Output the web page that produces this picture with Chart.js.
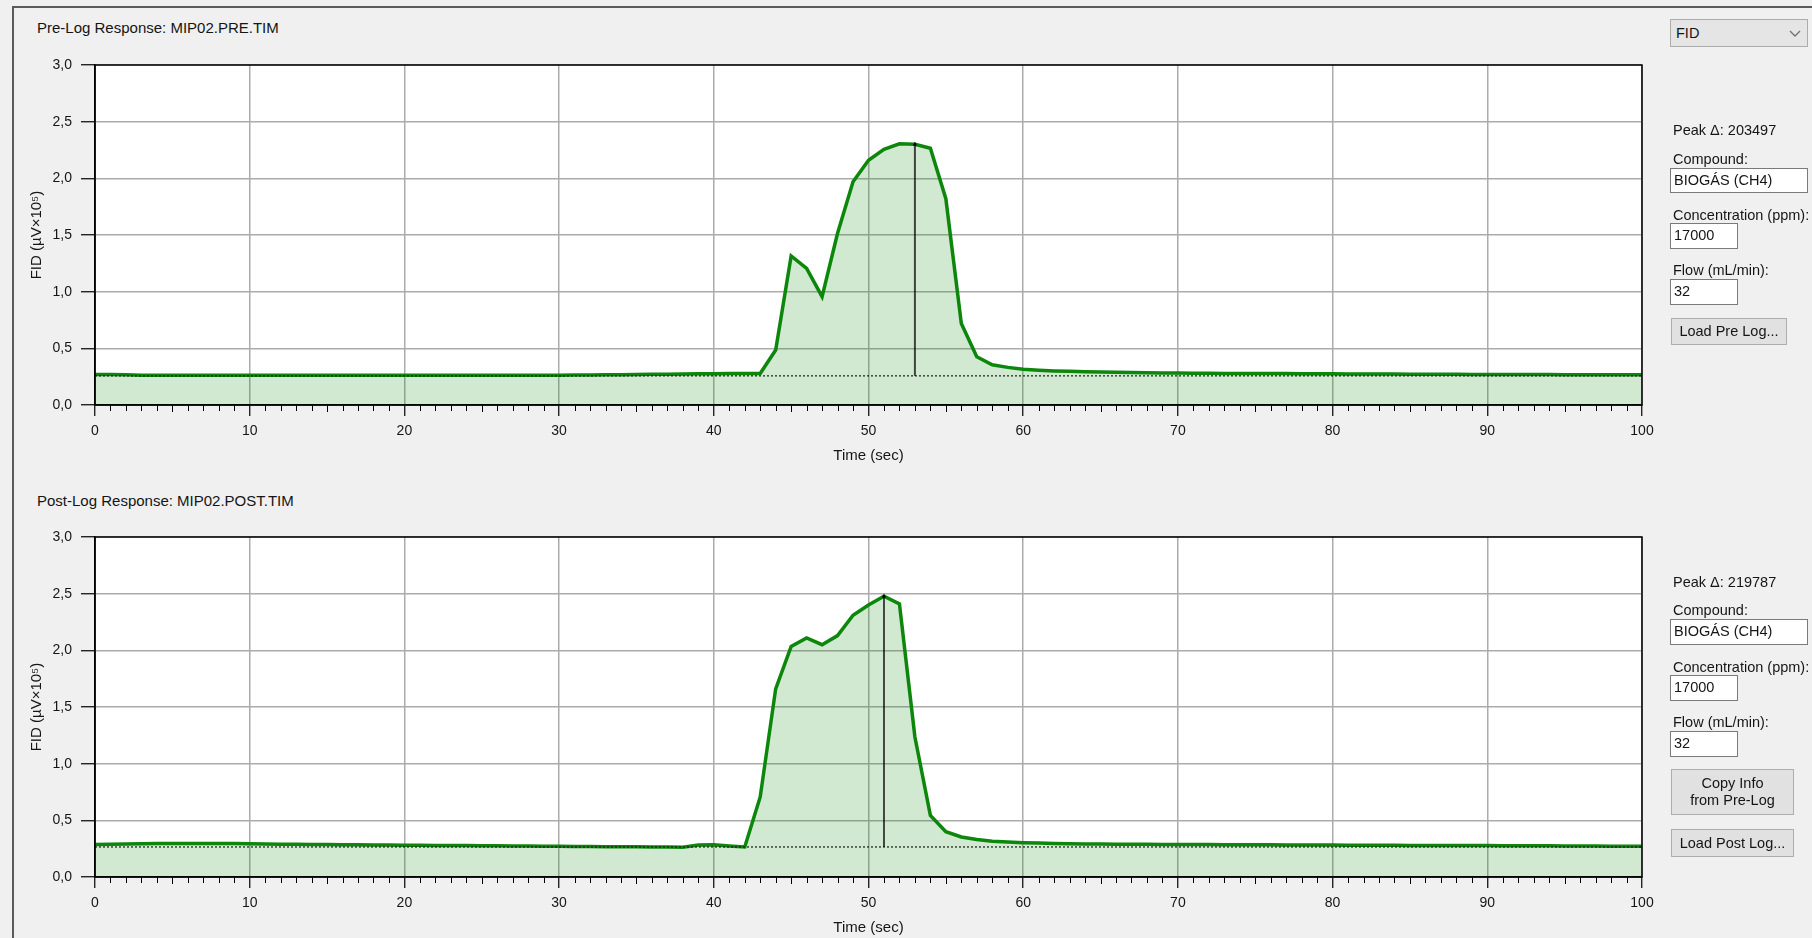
<!DOCTYPE html>
<html>
<head>
<meta charset="utf-8">
<script src="https://cdn.jsdelivr.net/npm/chart.js@4.4.1/dist/chart.umd.min.js"></script>
<style>
body { margin: 0; width: 1812px; height: 938px; background: #f0f0f0; overflow: hidden; position: relative;
       font-family: 'Liberation Sans', Arial, sans-serif; font-size: 14.5px; color: #151515; }
.frame { position: absolute; left: 12px; top: 6px; width: 2000px; height: 2000px;
         border-left: 2px solid #5a5a5a; border-top: 2px solid #5a5a5a; }
canvas { position: absolute; left: 0; }
.lbl { position: absolute; left: 1673px; height: 16px; line-height: 16px; white-space: nowrap; }
.ttl { position: absolute; left: 37px; height: 16px; line-height: 16px; white-space: nowrap; font-size: 15px; }
.box { position: absolute; left: 1670px; box-sizing: border-box; background: #fff; border: 1px solid #7a7a7a;
       padding-left: 3px; line-height: 23px; white-space: nowrap; }
.btn { position: absolute; left: 1671px; box-sizing: border-box; background: #e1e1e1; border: 1px solid #adadad;
       text-align: center; white-space: nowrap; }
.sel { position: absolute; left: 1670px; top: 19px; width: 138px; height: 28px; box-sizing: border-box;
       background: #e5e5e5; border: 1px solid #acacac; padding-left: 5px; line-height: 26px; }
.sel svg { position: absolute; right: 6px; top: 10px; }
</style>
</head>
<body>
<div class="frame"></div>

<div class="ttl" style="top:20px">Pre-Log Response: MIP02.PRE.TIM</div>
<div class="ttl" style="top:493px">Post-Log Response: MIP02.POST.TIM</div>

<canvas id="preChart" width="1680" height="425" style="top:40px"></canvas>
<canvas id="postChart" width="1680" height="457" style="top:480px"></canvas>

<div class="sel">FID<svg width="12" height="8" viewBox="0 0 12 8"><polyline points="1,1 6,6 11,1" fill="none" stroke="#707070" stroke-width="1.3"/></svg></div>

<div class="lbl" style="top:122px">Peak Δ: 203497</div>
<div class="lbl" style="top:151px">Compound:</div>
<div class="box" style="top:168px;width:138px;height:25px">BIOGÁS (CH4)</div>
<div class="lbl" style="top:207px">Concentration (ppm):</div>
<div class="box" style="top:223px;width:68px;height:26px">17000</div>
<div class="lbl" style="top:262px">Flow (mL/min):</div>
<div class="box" style="top:279px;width:68px;height:26px">32</div>
<div class="btn" style="top:318px;width:116px;height:27px;line-height:25px">Load Pre Log...</div>

<div class="lbl" style="top:574px">Peak Δ: 219787</div>
<div class="lbl" style="top:602px">Compound:</div>
<div class="box" style="top:619px;width:138px;height:26px">BIOGÁS (CH4)</div>
<div class="lbl" style="top:659px">Concentration (ppm):</div>
<div class="box" style="top:675px;width:68px;height:26px">17000</div>
<div class="lbl" style="top:714px">Flow (mL/min):</div>
<div class="box" style="top:731px;width:68px;height:26px">32</div>
<div class="btn" style="top:769px;width:123px;height:46px;line-height:17px;padding-top:5px">Copy Info<br>from Pre-Log</div>
<div class="btn" style="top:829px;width:123px;height:28px;line-height:26px">Load Post Log...</div>

<script>
// time axis (sec)
const times = [0,1,2,3,4,5,6,7,8,9,10,11,12,13,14,15,16,17,18,19,20,21,22,23,24,25,26,27,28,29,30,
  31,32,33,34,35,36,37,38,39,40,41,42,43,44,45,46,47,48,49,50,51,52,53,54,55,56,57,58,59,60,
  61,62,63,64,65,66,67,68,69,70,71,72,73,74,75,76,77,78,79,80,81,82,83,84,85,86,87,88,89,90,
  91,92,93,94,95,96,97,98,99,100];

// FID response, µV x 10^5
const preValues = [
  0.270, 0.270, 0.268, 0.263, 0.262, 0.262, 0.262, 0.262, 0.262, 0.262,
  0.262, 0.262, 0.262, 0.262, 0.262, 0.262, 0.262, 0.262, 0.262, 0.262,
  0.262, 0.262, 0.262, 0.262, 0.262, 0.262, 0.262, 0.262, 0.262, 0.262,
  0.263, 0.264, 0.265, 0.267, 0.268, 0.270, 0.271, 0.272, 0.274, 0.275,
  0.276, 0.277, 0.277, 0.278, 0.485, 1.315, 1.206, 0.956, 1.515, 1.970,
  2.160, 2.256, 2.305, 2.300, 2.265, 1.820, 0.720, 0.426, 0.355, 0.332,
  0.316, 0.307, 0.301, 0.297, 0.294, 0.291, 0.289, 0.287, 0.285, 0.283,
  0.282, 0.281, 0.280, 0.279, 0.279, 0.278, 0.277, 0.277, 0.276, 0.275,
  0.275, 0.274, 0.274, 0.273, 0.273, 0.272, 0.272, 0.271, 0.271, 0.270,
  0.270, 0.270, 0.269, 0.269, 0.269, 0.268, 0.268, 0.268, 0.267, 0.267,
  0.267];

const postValues = [
  0.286, 0.289, 0.292, 0.294, 0.295, 0.296, 0.296, 0.296, 0.295, 0.295,
  0.294, 0.292, 0.290, 0.288, 0.287, 0.286, 0.285, 0.284, 0.283, 0.282,
  0.281, 0.280, 0.279, 0.278, 0.277, 0.276, 0.275, 0.274, 0.273, 0.272,
  0.271, 0.270, 0.269, 0.268, 0.267, 0.266, 0.265, 0.264, 0.263, 0.283,
  0.284, 0.274, 0.265, 0.706, 1.660, 2.035, 2.110, 2.050, 2.130, 2.310,
  2.400, 2.477, 2.410, 1.235, 0.544, 0.400, 0.353, 0.330, 0.316, 0.308,
  0.303, 0.299, 0.296, 0.294, 0.292, 0.291, 0.290, 0.289, 0.288, 0.287,
  0.287, 0.286, 0.286, 0.285, 0.285, 0.284, 0.284, 0.283, 0.283, 0.282,
  0.282, 0.281, 0.281, 0.280, 0.280, 0.279, 0.279, 0.278, 0.278, 0.277,
  0.277, 0.276, 0.276, 0.275, 0.275, 0.274, 0.273, 0.273, 0.272, 0.272,
  0.271];

const preBaseline = 0.257;
const postBaseline = 0.265;
const prePeakTime = 53;
const postPeakTime = 51;

const yTicks = ['0,0', '0,5', '1,0', '1,5', '2,0', '2,5', '3,0'];
const minorStep = 1;

Chart.defaults.font.family = "'Liberation Sans', Arial, sans-serif";
Chart.defaults.font.size = 14;
Chart.defaults.color = '#151515';

const frame = {
  id: 'frame',
  beforeDraw(chart) {
    const {ctx, chartArea: a} = chart;
    ctx.save();
    ctx.fillStyle = '#fff';
    ctx.fillRect(a.left, a.top, a.width, a.height);
    ctx.restore();
  },
  afterDatasetsDraw(chart) {
    const {ctx, chartArea: a, scales: {x}} = chart;
    ctx.save();
    ctx.strokeStyle = '#000';
    ctx.lineWidth = 1.5;
    ctx.strokeRect(a.left, a.top, a.width, a.height);
    ctx.beginPath();
    ctx.lineWidth = 1;
    for (let v = x.min; v <= x.max; v += minorStep) {
      if (v % 10 === 0) continue;
      const px = Math.round(x.getPixelForValue(v)) + 0.5;
      ctx.moveTo(px, a.bottom);
      ctx.lineTo(px, a.bottom + (v % 5 === 0 ? 7 : 6));
    }
    ctx.stroke();
    ctx.restore();
  }
};

function makeChart(id, values, baseline, peakTime, padTop) {
  const peakVal = values[times.indexOf(peakTime)];
  return new Chart(document.getElementById(id), {
    type: 'line',
    data: {
      datasets: [{
        data: times.map((t, i) => ({x: t, y: values[i]})),
        borderColor: '#0c870c',
        borderWidth: 3.5,
        backgroundColor: 'rgba(0, 128, 0, 0.18)',
        fill: 'origin',
        pointRadius: 0,
        tension: 0,
        order: 3
      }, {
        data: [{x: times[0], y: baseline}, {x: times[times.length - 1], y: baseline}],
        borderColor: '#1a1a1a',
        borderWidth: 1.2,
        borderDash: [2, 2],
        pointRadius: 0,
        fill: false,
        order: 2
      }, {
        data: [{x: peakTime, y: baseline}, {x: peakTime, y: peakVal}],
        borderColor: 'rgba(0, 0, 0, 0.7)',
        borderWidth: 2,
        pointRadius: [0, 2.5],
        pointStyle: 'triangle',
        pointBackgroundColor: '#000',
        pointBorderWidth: 0,
        fill: false,
        order: 1
      }]
    },
    options: {
      responsive: false,
      animation: false,
      layout: { padding: { top: padTop, right: 38, left: 0, bottom: 0 } },
      plugins: { legend: { display: false }, tooltip: { enabled: false } },
      scales: {
        x: {
          type: 'linear',
          min: 0,
          max: 100,
          afterFit: s => { s.height = 60; },
          ticks: { stepSize: 10, padding: 7, autoSkip: false, maxRotation: 0 },
          grid: { color: '#ababab', lineWidth: 1.5, tickColor: '#000', tickLength: 11, tickWidth: 1.2 },
          border: { color: '#000', width: 1.5 },
          title: { display: true, text: 'Time (sec)', font: { size: 15 }, padding: { top: 0, bottom: 0 } }
        },
        y: {
          min: 0,
          max: 3,
          afterFit: s => { s.width = 95; },
          ticks: { stepSize: 0.5, padding: 9, callback: (v, i) => yTicks[i] },
          grid: { color: '#ababab', lineWidth: 1.5, tickColor: '#000', tickLength: 14, tickWidth: 1.2 },
          border: { color: '#000', width: 1.5 },
          title: { display: true, text: 'FID (µV×10⁵)', font: { size: 15 }, padding: { top: 28, bottom: 0 } }
        }
      }
    },
    plugins: [frame]
  });
}

makeChart('preChart', preValues, preBaseline, prePeakTime, 25);
makeChart('postChart', postValues, postBaseline, postPeakTime, 57);
</script>
</body>
</html>
